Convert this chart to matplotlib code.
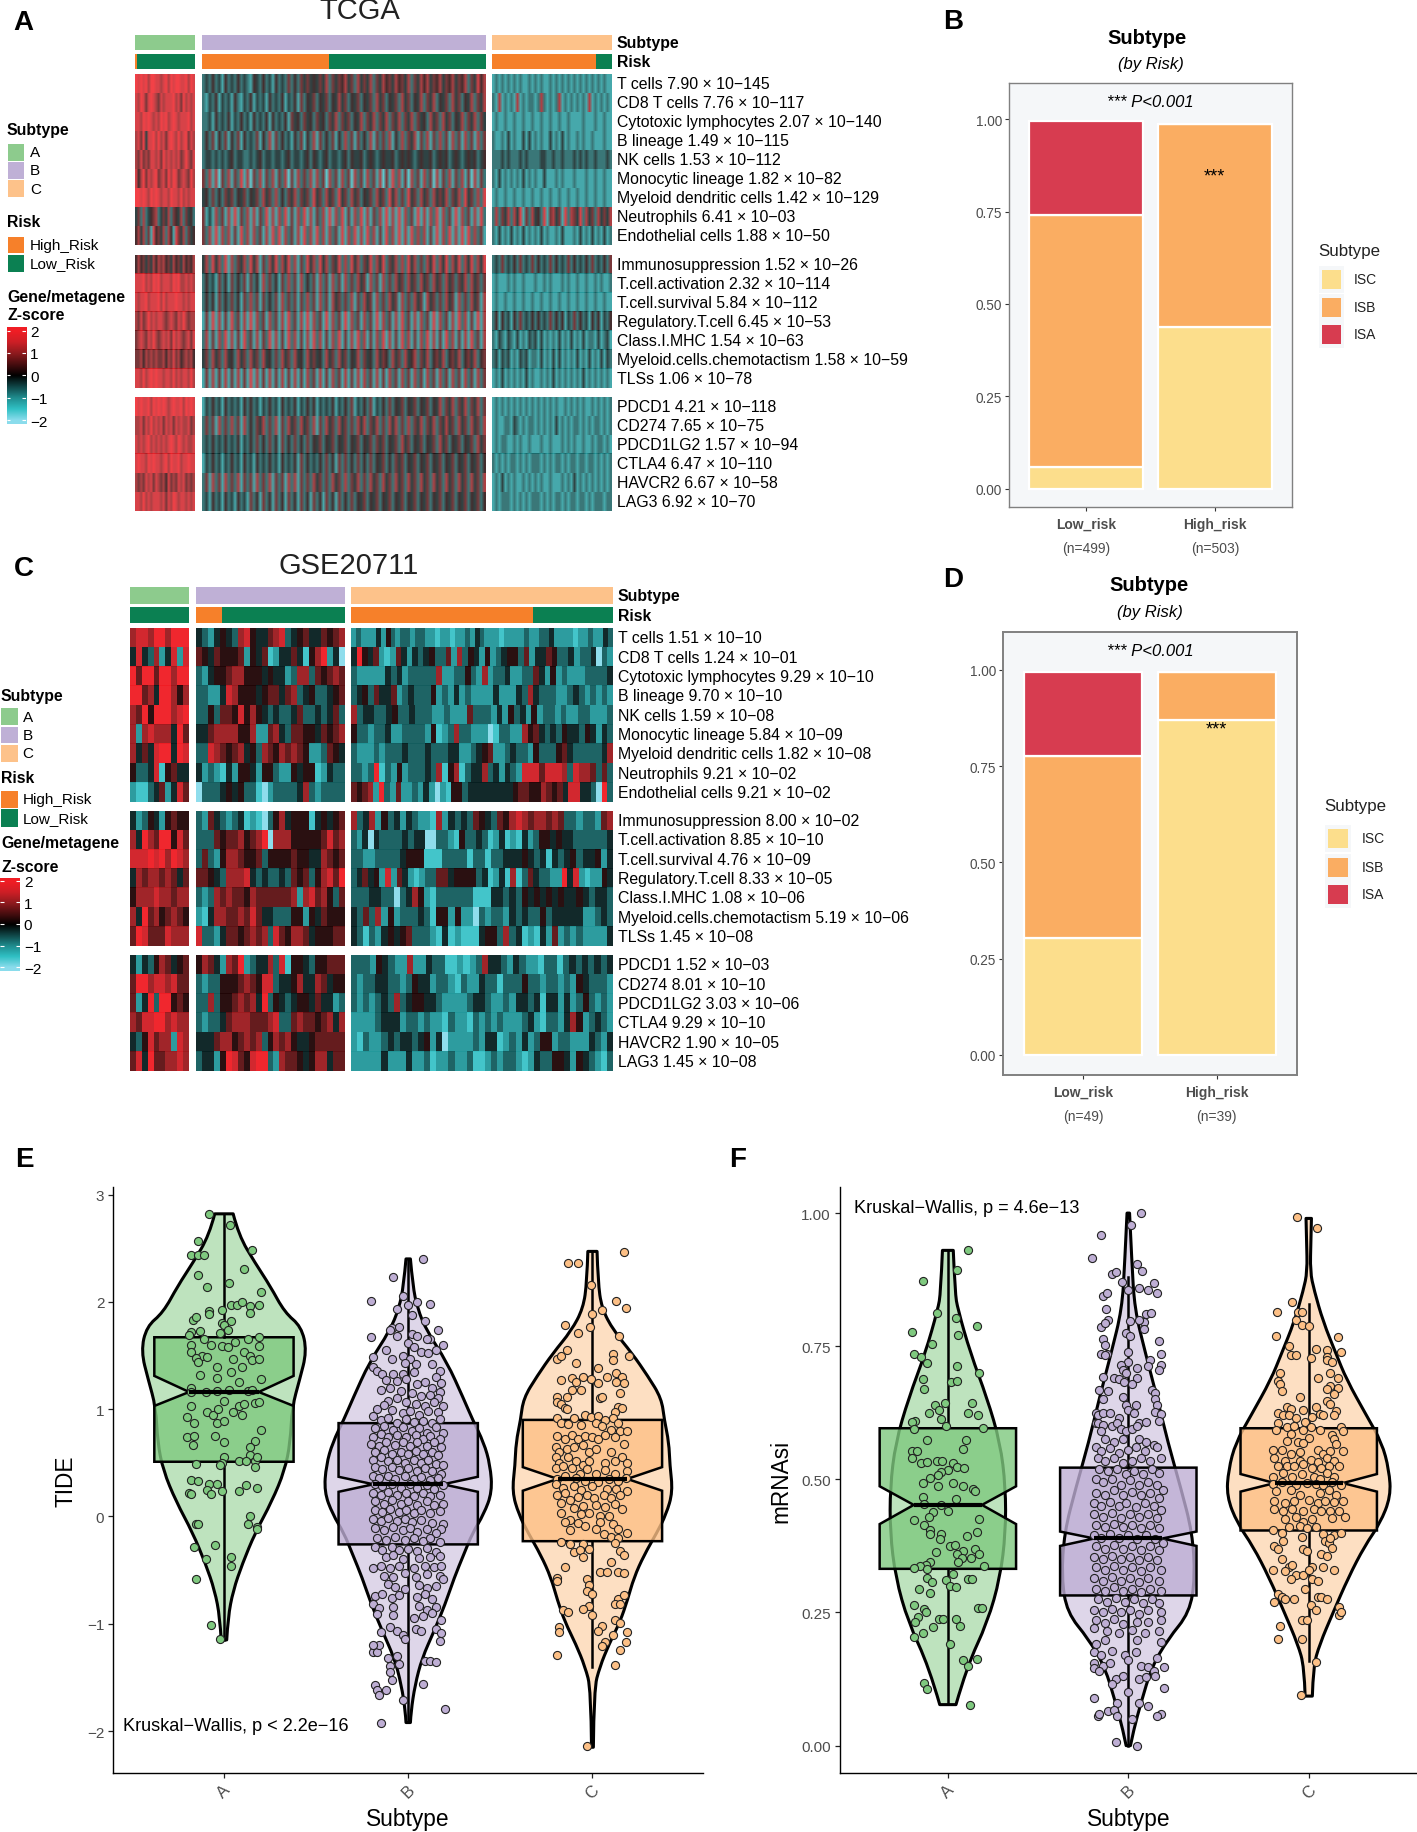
import matplotlib
matplotlib.use("Agg")
import matplotlib.pyplot as plt
import numpy as np
from matplotlib.colors import LinearSegmentedColormap, to_rgba
from matplotlib.patches import PathPatch, Rectangle
from matplotlib.path import Path

plt.rcParams["font.family"] = ["Liberation Sans", "DejaVu Sans"]

W, H = 1417, 1833

# ---- heatmap labels
TCGA_LABELS = ["T cells 7.90 × 10−145", "CD8 T cells 7.76 × 10−117", "Cytotoxic lymphocytes 2.07 × 10−140",
               "B lineage 1.49 × 10−115", "NK cells 1.53 × 10−112", "Monocytic lineage 1.82 × 10−82",
               "Myeloid dendritic cells 1.42 × 10−129", "Neutrophils 6.41 × 10−03", "Endothelial cells 1.88 × 10−50",
               "Immunosuppression 1.52 × 10−26", "T.cell.activation 2.32 × 10−114", "T.cell.survival 5.84 × 10−112",
               "Regulatory.T.cell 6.45 × 10−53", "Class.I.MHC 1.54 × 10−63", "Myeloid.cells.chemotactism 1.58 × 10−59",
               "TLSs 1.06 × 10−78", "PDCD1 4.21 × 10−118", "CD274 7.65 × 10−75", "PDCD1LG2 1.57 × 10−94",
               "CTLA4 6.47 × 10−110", "HAVCR2 6.67 × 10−58", "LAG3 6.92 × 10−70"]
GSE_LABELS = ["T cells 1.51 × 10−10", "CD8 T cells 1.24 × 10−01", "Cytotoxic lymphocytes 9.29 × 10−10",
              "B lineage 9.70 × 10−10", "NK cells 1.59 × 10−08", "Monocytic lineage 5.84 × 10−09",
              "Myeloid dendritic cells 1.82 × 10−08", "Neutrophils 9.21 × 10−02", "Endothelial cells 9.21 × 10−02",
              "Immunosuppression 8.00 × 10−02", "T.cell.activation 8.85 × 10−10", "T.cell.survival 4.76 × 10−09",
              "Regulatory.T.cell 8.33 × 10−05", "Class.I.MHC 1.08 × 10−06", "Myeloid.cells.chemotactism 5.19 × 10−06",
              "TLSs 1.45 × 10−08", "PDCD1 1.52 × 10−03", "CD274 8.01 × 10−10", "PDCD1LG2 3.03 × 10−06",
              "CTLA4 9.29 × 10−10", "HAVCR2 1.90 × 10−05", "LAG3 1.45 × 10−08"]
BLOCK_ROWS = [9, 7, 6]

# share of high risk samples per subtype
TCGA_HIGH_FRAC = [0.03, 0.448, 0.87]
GSE_HIGH_FRAC = [0.0, 0.175, 0.695]

# heat values, one string per row, digit 0..9 stands for z-score -2..2
TCGA_A = [
    "989897998878979899889798", "879868987687888978697878", "887989878798978987888978", "786948897978689879789687",
    "768676887869787878679768", "857968789678697986787697", "998987989878879887978788", "463734567346473654736453",
    "574736285647375286473645",
    "575646475767564756475657", "888978798978887989778787", "878897888979788898878788", "768679787887678768797677",
    "678768797678786978767868", "667576767667576867567675", "887978989887887978788797",
    "989889798989878988979898", "778687978786878687877867", "878789787878789879878778", "898879898878979889788988",
    "767687868767586768786767", "887978788878687987887878"]
TCGA_B = [
    "343534253435343254353425343635364645464736465746374647364756475647364757465746574657364857",
    "324352434253243524342534352435263546354635474635463546374635463746354736473546374635473647",
    "334253435243534253435253435264536453645364736463547364736473647364736453746374635473647364",
    "353625362536253436253726353425362537263536253736263537263637253736472637263736273627362736",
    "344343434534433434534434434534434535434534434535445345434544534545434544534545345434545345",
    "637271637263827163726372637162736372736173627361736273627162837261736273617263726372617263",
    "453635364635463546374637353647364638463746384637463546374638473638463746374647364738463738",
    "624273627282637272638272738262738272637282738262738272637282728273628272738273628273627283",
    "637282737262837273627283827362728372837273628273827283726283728272837372628273827282837362",
    "473847382736473847263748374837263847384736483738473648374836473738473637483748374837483748",
    "353426352635362635273635263736273536273627362736374627362736374637463746374637463647374636",
    "353526353635263736263536273636263736273627463637263746273637462736374627463637462736374627",
    "262827262836272827362736272836272827362827362827362736282736272836272736282736272837262827",
    "372627382726283627263827262837262728372627382627283726273827262837262738272628372627283627",
    "463746374537463746374536374637453746453746374635473645374653746374573647356473564735647356",
    "262726272627262827262726272627262736272627362726272736272627362736273627362736273627362736",
    "243534253434253534243534253435243535243435243536243536243536354635463546354736473647364736",
    "363627363736273536473637263746374637263746374636374736473637473637364736473647463746374637",
    "343534353435243536353635263536353635463546354635463546364635463746354635463746354635463746",
    "243534243534253425343534253435263534353635263635363536354635364635463546354635463546354635",
    "362736273637263627363726362737263637463637463736473637463746374637463746374637463746374637",
    "342534253425342635263526352635263526352635263536354635463546354635463546354635463546354635"]
TCGA_C = [
    "2323232323223232322323232323232323232322", "3272323272323323732323723232323272323232", "2322322322322322322322322322223222322322",
    "3223242322424232322423242322323223222322", "3334343334343333443343343334343433433343", "3242323232423232242223232223222322322322",
    "2322322322322322322322322322322322322322", "3736473748263745382674628376483746374647", "3242324232423232423223242223242324232423",
    "3436343536343635343635343635343536343536", "2322232322322232232322232322322322323223", "2322322322322322322322322322322322322322",
    "3525342536343535343635352436353425352435", "3243243242324342423232423242324233242342", "3424342324342332423242423232423242324243",
    "2324232323242322323242323232324232323232",
    "2323232323232323232323223232323223232323", "2322332432323323232324232323323232332323", "2323322323223222322322232323223223233232",
    "3232323323232333232323323233233233232323", "2324232322323232322322232324232323232323", "2323332323232333232323323233233232333233"]

GSE_A = [
    "7887997999", "4843724828", "9699699799", "9967499757", "7695999789", "7278777496", "7464899498", "5334815644",
    "2113462486",
    "4235425655", "7497699586", "8889897987", "4767767646", "5777877677", "7496756765", "6986668777",
    "4243576456", "6997887866", "6249399565", "7688997877", "4358677287", "6849667787"]
GSE_B = [
    "4324543785446783456446567", "6546555625461244641579240", "3245567755545442377365676", "3322487555456646734533456",
    "3353665857543433463343463", "4467777557226743665546567", "3387656745376576765223654", "4232142554255322545512433",
    "0333454533102333347323333",
    "3264323412103574555145456", "3336566756790777555556867", "3632577655635555655447656", "6654377784343343656357869",
    "3237676657666666727867536", "2147766768644333552546555", "8332466567673865776455566",
    "5764276923447381554355666", "3233555676588344574476455", "3373556767493543455464423", "3233467776667833676656747",
    "4446775676735767544566666", "3442598658993276654577466"]
GSE_C = [
    "23222425323323322122122324322212222322334222212232243", "49546212642434533627354252345536244653342334032",
    "3222224342333337223353272334223364252322233334", "3453644623433352324232222422243743332234323232",
    "734433453343332232226333242534252332322332223",  "5332334223333251237332220133227564343544354243",
    "3222323334333433344223456223433253335643333347",  "3323913252333437157134473424328886888738776363",
    "65672932622324202155344444444566557656488443093",
    "7347253424322172434365436578767767633233267",  "3240433334344003321533431241214235545443333334", "3322333345551113333133133444543414345344524",
    "3464528264212336645555341241713643322948212254", "3334433034752133333311144343545454544543443",  "4363725233343155252203233243433534444422343",
    "4313245456333214121114553734121426232322224",
    "333254322722433112123744324322133134343434", "3233443323544233213224331333533233232543332", "3232343734554432222344322324434144242353232",
    "2222344423323221322132323222342133247523432", "2132234344345240222232441232423552332224324", "2222242224223122322311232332124335542543213"]

# ---- stacked bars
RISK_NAMES = ["Low_risk", "High_risk"]
B_COUNTS = ["(n=499)", "(n=503)"]
D_COUNTS = ["(n=49)", "(n=39)"]
B_ISC = [0.057, 0.437]
B_ISB = [0.683, 0.551]
B_ISA = [0.254, 0.0]
D_ISC = [0.303, 0.870]
D_ISB = [0.472, 0.124]
D_ISA = [0.219, 0.0]

# ---- box statistics: q1, notch low, median, notch high, q3, whisker low, whisker high
E_BOX = [(0.51, 1.03, 1.16, 1.31, 1.67, -1.15, 2.82), (-0.26, 0.23, 0.30, 0.37, 0.87, -1.90, 2.40),
         (-0.23, 0.24, 0.35, 0.46, 0.90, -1.40, 2.47)]
F_BOX = [(0.332, 0.416, 0.452, 0.487, 0.596, 0.08, 0.93), (0.282, 0.375, 0.389, 0.402, 0.522, 0.0, 0.88),
         (0.404, 0.477, 0.493, 0.510, 0.596, 0.158, 0.83)]

# ---- violin outlines: y level and half width
E_VIO_Y = [[2.82, 2.62, 2.36, 2.15, 1.9, 1.77, 1.54, 1.27, 1.02, 0.69, 0.43, 0.14, -0.15, -0.44, -0.69, -0.94, -1.15],
           [2.40, 2.15, 1.94, 1.73, 1.44, 1.1, 0.9, 0.69, 0.48, 0.23, 0.02, -0.15, -0.36, -0.57, -0.82, -1.07, -1.32, -1.57, -1.82, -1.92],
           [2.47, 2.19, 1.94, 1.73, 1.52, 1.31, 1.1, 0.9, 0.69, 0.48, 0.23, 0.02, -0.15, -0.36, -0.57, -0.78, -0.98, -1.19, -1.4, -1.61, -2.15]]
E_VIO_W = [[0.05, 0.08, 0.17, 0.25, 0.33, 0.42, 0.45, 0.41, 0.37, 0.36, 0.33, 0.26, 0.17, 0.10, 0.05, 0.022, 0.015],
           [0.012, 0.025, 0.05, 0.10, 0.21, 0.30, 0.35, 0.41, 0.445, 0.456, 0.41, 0.35, 0.30, 0.25, 0.20, 0.14, 0.075, 0.037, 0.015, 0.012],
           [0.025, 0.03, 0.05, 0.115, 0.215, 0.30, 0.375, 0.39, 0.415, 0.42, 0.436, 0.40, 0.35, 0.28, 0.225, 0.19, 0.15, 0.09, 0.04, 0.008, 0.005]]
F_VIO_Y = [[0.93, 0.85, 0.82, 0.737, 0.653, 0.569, 0.485, 0.40, 0.316, 0.232, 0.148, 0.077],
           [1.0, 0.906, 0.82, 0.737, 0.653, 0.569, 0.485, 0.40, 0.316, 0.25, 0.20, 0.148, 0.08, 0.03, 0.0],
           [0.99, 0.948, 0.89, 0.855, 0.796, 0.737, 0.687, 0.62, 0.569, 0.518, 0.468, 0.417, 0.375, 0.316, 0.25, 0.19, 0.148, 0.093]]
F_VIO_W = [[0.03, 0.04, 0.055, 0.125, 0.217, 0.29, 0.32, 0.32, 0.29, 0.22, 0.105, 0.045],
           [0.007, 0.02, 0.035, 0.095, 0.16, 0.22, 0.29, 0.355, 0.37, 0.34, 0.22, 0.13, 0.07, 0.03, 0.012],
           [0.015, 0.012, 0.008, 0.03, 0.08, 0.15, 0.21, 0.32, 0.405, 0.445, 0.455, 0.395, 0.31, 0.22, 0.135, 0.06, 0.025, 0.02]]

# ---- jittered points, offset from category centre and value
E_A_PTS = [(-.08,2.82),(.035,2.72),(-.14,2.57),(-.18,2.44),(-.14,2.44),(-.11,2.44),(.15,2.48),(.11,2.31),(-.14,2.25),(-.09,2.14),(.03,2.18),(.2,2.09),(-.08,1.91),(-.08,1.89),(-.01,1.92),(.04,1.97),(.07,1.97),(.1,2.0),(.14,1.96),(.19,1.97),(.14,1.9),(-.17,1.83),(-.15,1.86),(.04,1.82),(-.01,1.8),(.0,1.78),(-.18,1.72),(-.13,1.73),(-.19,1.69),(-.02,1.71),(.02,1.74),(-.11,1.65),(.06,1.63),(.13,1.65),(.19,1.67),(-.18,1.6),(-.07,1.6),(-.01,1.59),(.02,1.58),(.19,1.59),(-.18,1.53),(-.12,1.5),(-.15,1.48),(-.09,1.49),(.11,1.53),(.14,1.5),(.05,1.47),(.15,1.46),(.19,1.47),(-.14,1.44),(-.04,1.39),(.04,1.35),(.1,1.39),(-.13,1.32),(-.04,1.29),(.08,1.25),(.2,1.28),(-.18,1.2),(-.04,1.17),(.03,1.18),(.13,1.17),(.15,1.18),(-.18,1.16),(-.1,1.16),(0,1.08),(-.18,1.03),(.08,1.03),(.11,1.05),(.17,1.06),(.19,1.07),(-.09,.97),(-.06,.95),(-.03,1.0),(.05,.97),(.1,.95),(-.2,.93),(-.16,.87),(-.04,.87),(.0,.89),(.2,.81),(-.2,.74),(-.16,.75),(-.05,.75),(0,.69),(.17,.7),(-.17,.67),(.14,.65),(.14,.57),(.0,.55),(-.01,.5),(.08,.52),(.12,.52),(.17,.52),(.18,.55),(-.15,.49),(-.02,.48),(.17,.46),(-.18,.34),(-.14,.33),(-.08,.3),(-.04,.3),(-.09,.25),(-.19,.22),(-.18,.21),(-.07,.21),(-.01,.24),(.08,.24),(.12,.29),(.18,.27),(.14,0.0),(-.15,-.07),(-.14,-.07),(.13,-.07),(.18,-.1),(.18,-.12),(-.16,-.28),(-.05,-.27),(.04,-.38),(-.1,-.4),(.04,-.46),(-.15,-.58),(-.07,-1.01),(-.02,-1.14)]
E_B_PTS = [(.08,2.4),(-.08,2.23),(-.2,2.01),(-.03,2.05),(.05,2.0),(.12,1.98),(.0,1.97),(-.06,1.93),(.02,1.88),(.09,1.82),(-.09,1.76),(-.05,1.77),(-.1,1.74),(.16,1.74),(.12,1.65),(.19,1.6),(-.2,1.67),(-.06,1.68),(.02,1.7),(.05,1.68),(.1,1.65),(.0,1.62),(.03,1.58),(-.12,1.55),(.15,1.55),(-.19,1.49),(-.03,1.5),(.01,1.47),(.07,1.53),(.11,1.52),(.04,1.42),(-.09,1.47),(-.02,1.43),(-.19,1.39),(-.17,1.36),(.13,1.42),(.17,1.36),(.15,1.3),(-.14,1.33),(-.08,1.33),(-.03,1.33),(.03,1.35),(.18,1.24),(-.12,1.27),(-.06,1.26),(-.01,1.28),(.05,1.23),(.09,1.25),(.13,1.2),(.17,1.16),(-.15,1.18),(-.1,1.2),(-.04,1.17),(.02,1.15),(.07,1.12),(.12,1.13),(.16,1.1),(-.11,1.08),(-.06,1.1),(-.01,1.07),(-.17,1.0),(-.13,1.04),(.04,1.05),(.09,1.03),(.14,1.07),(.19,1.03),(-.19,.94),(-.09,.99),(-.03,.96),(.01,.98),(.06,.95),(.11,.98),(.16,.97),(-.15,.9),(-.11,.92),(-.06,.87),(-.01,.91),(.03,.88),(.08,.89),(.13,.87),(.17,.91),(-.18,.82),(-.13,.84),(-.08,.81),(-.03,.83),(.02,.8),(.06,.82),(.1,.78),(.15,.83),(.19,.78),(-.19,.74),(-.15,.77),(-.11,.74),(-.06,.76),(-.01,.74),(.04,.76),(.08,.72),(.12,.75),(.17,.72),(-.2,.68),(-.16,.66),(-.12,.69),(-.07,.67),(-.03,.69),(.01,.66),(.05,.69),(.1,.66),(.14,.69),(.18,.65),(-.18,.6),(-.13,.62),(-.09,.58),(-.04,.6),(.0,.58),(.04,.61),(.08,.58),(.13,.6),(.16,.57),(-.19,.53),(-.15,.55),(-.11,.52),(-.06,.53),(-.02,.5),(.03,.53),(.07,.5),(.11,.53),(.15,.49),(.19,.48),(-.18,.46),(-.14,.44),(-.09,.46),(-.05,.43),(.0,.45),(.05,.42),(.09,.45),(.13,.42),(.18,.4),(-.19,.38),(-.16,.36),(-.11,.38),(-.07,.35),(-.02,.38),(.03,.35),(.07,.37),(.12,.34),(.16,.36),(-.18,.3),(-.14,.28),(-.09,.3),(-.04,.27),(.01,.3),(.05,.27),(.1,.29),(.14,.26),(.19,.29),(-.19,.22),(-.15,.2),(-.11,.23),(-.06,.2),(-.01,.22),(.03,.19),(.08,.22),(.12,.19),(.17,.2),(-.18,.14),(-.13,.12),(-.09,.15),(-.04,.12),(.0,.14),(.05,.11),(.1,.14),(.14,.11),(.19,.12),(-.18,.06),(-.14,.04),(-.1,.07),(-.05,.04),(-.01,.06),(.03,.03),(.07,.06),(.12,.03),(.17,.05),(-.19,-.02),(-.15,-.04),(-.11,-.01),(-.06,-.04),(-.02,-.02),(.02,-.05),(.07,-.03),(.13,-.06),(.19,-.07),(.18,-.12),(-.18,-.11),(-.13,-.13),(-.08,-.1),(-.03,-.13),(.01,-.11),(.05,-.14),(.1,-.12),(.15,-.15),(-.17,-.2),(-.12,-.22),(-.07,-.19),(-.02,-.22),(.03,-.2),(.08,-.23),(.12,-.2),(.17,-.24),(-.18,-.28),(-.14,-.31),(-.09,-.28),(-.05,-.31),(.0,-.3),(.05,-.32),(.1,-.29),(.15,-.33),(-.12,-.38),(-.08,-.36),(-.03,-.4),(.06,-.39),(.12,-.38),(.17,-.37),(-.19,-.48),(-.15,-.46),(-.1,-.48),(-.05,-.46),(.03,-.48),(.09,-.46),(.14,-.47),(.18,-.46),(-.13,-.55),(-.08,-.56),(-.02,-.53),(.04,-.56),(.1,-.54),(.17,-.55),(.19,-.58),(-.11,-.63),(-.07,-.66),(-.02,-.68),(.06,-.64),(.1,-.67),(.15,-.65),(-.18,-.74),(-.14,-.72),(-.09,-.76),(-.05,-.73),(.05,-.75),(.09,-.72),(.13,-.77),(-.19,-.82),(-.16,-.85),(-.08,-.84),(.06,-.83),(.1,-.87),(.15,-.84),(-.17,-.91),(-.08,-.92),(.03,-.95),(.08,-.93),(.13,-.9),(.18,-.96),(-.1,-1.03),(-.06,-1.07),(.04,-1.05),(.07,-1.07),(.15,-1.05),(.18,-1.09),(-.15,-1.08),(-.03,-1.1),(-.02,-1.14),(-.19,-1.26),(-.17,-1.26),(-.16,-1.2),(-.19,-1.2),(.17,-1.16),(-.11,-1.32),(-.06,-1.3),(-.1,-1.39),(-.05,-1.37),(.09,-1.35),(.12,-1.35),(.15,-1.36),(-.1,-1.45),(-.09,-1.52),(.08,-1.56),(-.18,-1.57),(-.17,-1.62),(-.12,-1.62),(-.16,-1.66),(-.03,-1.71),(.2,-1.79),(-.15,-1.92)]
E_C_PTS = [(.17,2.46),(-.135,2.36),(-.08,2.36),(-.01,2.16),(.13,2.01),(.18,1.94),(.05,1.92),(0,1.89),(-.15,1.78),(-.015,1.77),(-.08,1.71),(.145,1.68),(-.19,1.47),(-.17,1.5),(-.14,1.55),(.11,1.51),(.11,1.46),(.2,1.5),(-.09,1.43),(.03,1.38),(-.17,1.27),(-.11,1.29),(-.09,1.25),(-.05,1.3),(-.01,1.28),(.03,1.24),(.08,1.3),(.13,1.34),(.16,1.3),(.13,1.25),(.17,1.24),(-.11,1.18),(-.06,1.18),(.15,1.15),(-.19,1.11),(-.14,1.11),(.04,1.1),(.05,1.11),(-.19,1.07),(-.17,1.05),(-.15,1.01),(-.14,1.0),(.14,1.02),(.16,1.01),(.12,.97),(-.19,.92),(-.1,.92),(-.04,.95),(-.01,.93),(.03,.94),(.07,.9),(.11,.92),(.14,.87),(-.17,.87),(-.13,.86),(-.06,.85),(.02,.87),(.05,.84),(.1,.81),(.15,.8),(.19,.8),(-.19,.75),(-.15,.72),(-.11,.76),(-.08,.72),(-.04,.75),(.0,.74),(.03,.72),(.07,.76),(.12,.74),(.17,.68),(-.2,.65),(-.18,.6),(-.14,.63),(-.1,.65),(-.05,.67),(-.02,.6),(.02,.63),(.1,.6),(.16,.55),(-.2,.55),(-.18,.5),(-.13,.55),(-.09,.52),(-.05,.48),(-.02,.52),(.07,.5),(.12,.52),(.19,.5),(-.2,.45),(-.16,.47),(-.11,.45),(-.07,.4),(-.03,.44),(.02,.4),(.07,.43),(.12,.4),(.19,.42),(-.19,.35),(-.15,.38),(-.09,.36),(-.04,.33),(.03,.32),(.09,.35),(.14,.33),(.18,.36),(-.2,.3),(-.16,.27),(-.1,.28),(-.06,.25),(.0,.28),(.08,.26),(.13,.26),(.19,.24),(-.19,.2),(-.15,.22),(-.12,.15),(-.08,.18),(-.03,.2),(.01,.17),(.06,.2),(.1,.17),(.15,.2),(-.17,.13),(-.1,.08),(-.05,.1),(.02,.11),(.07,.09),(.12,.12),(.16,.07),(-.17,.03),(-.12,-.03),(-.06,.02),(-.02,.03),(.04,.0),(.09,.0),(-.15,-.05),(-.08,-.06),(-.04,-.09),(.04,-.05),(.11,-.07),(.14,-.12),(.19,-.15),(-.12,-.13),(.02,-.12),(.06,-.16),(.1,-.19),(.14,-.2),(-.17,-.24),(-.12,-.26),(-.05,-.26),(-.02,-.3),(.12,-.25),(.15,-.32),(.17,-.36),(-.1,-.33),(-.07,-.31),(-.05,-.38),(.1,-.42),(.04,-.52),(.08,-.52),(.14,-.52),(.17,-.53),(-.15,-.47),(-.19,-.57),(-.19,-.6),(-.03,-.58),(-.02,-.64),(-.03,-.69),(0,-.72),(-.02,-.83),(-.05,-.86),(-.16,-.87),(.14,-.77),(.17,-.73),(.12,-.82),(.15,-.82),(-.13,-.89),(.0,-.92),(.12,-.96),(.15,-.99),(-.18,-1.03),(-.18,-1.08),(.05,-1.02),(.03,-1.07),(.11,-1.1),(.19,-1.08),(.07,-1.17),(.05,-1.21),(.18,-1.17),(.15,-1.24),(-.19,-1.29),(.12,-1.38),(-.03,-2.14)]
F_A_PTS = [(.11,.93),(.05,.894),(-.14,.872),(-.06,.813),(.045,.803),(.16,.788),(-.2,.776),(.055,.772),(-.09,.755),(-.19,.735),(-.15,.73),(-.115,.718),(.05,.712),(.17,.70),(-.14,.688),(.02,.682),(.05,.685),(-.13,.67),(.135,.644),(-.015,.644),(-.07,.64),(-.05,.63),(-.105,.624),(.11,.624),(.165,.62),(-.04,.614),(-.18,.61),(-.2,.607),(-.01,.6),(-.19,.595),(.195,.597),(-.115,.573),(.1,.573),(.085,.557),(-.2,.554),(-.17,.554),(-.2,.541),(-.15,.531),(-.115,.533),(-.06,.534),(-.035,.535),(.03,.531),(.05,.523),(.09,.522),(0,.518),(-.04,.514),(-.055,.508),(-.1,.502),(-.14,.493),(-.055,.487),(.03,.493),(.085,.487),(.14,.481),(.15,.478),(-.14,.466),(.045,.463),(-.135,.453),(-.04,.451),(-.08,.439),(0,.44),(-.105,.43),(-.19,.424),(.17,.426),(-.13,.414),(-.1,.405),(-.1,.398),(-.04,.397),(-.045,.388),(.16,.402),(.105,.394),(.01,.375),(.04,.377),(.15,.37),(-.065,.364),(.085,.365),(.17,.36),(.05,.36),(.08,.353),(.13,.352),(.055,.345),(-.1,.345),(-.12,.34),(-.155,.338),(-.19,.333),(-.115,.332),(.2,.337),(.03,.322),(-.115,.315),(-.01,.311),(-.09,.307),(.11,.312),(.135,.312),(.01,.3),(.045,.298),(-.16,.294),(-.1,.287),(-.185,.264),(.165,.259),(.19,.258),(-.13,.256),(-.12,.25),(-.165,.242),(-.18,.232),(-.05,.237),(-.025,.237),(.045,.237),(.07,.225),(-.085,.222),(-.14,.211),(-.19,.204),(.01,.19),(.16,.163),(.085,.161),(.11,.15),(-.135,.117),(-.115,.106),(.125,.077)]
F_B_PTS = [(.07,1.0),(.015,.977),(-.15,.958),(-.2,.915),(.05,.905),(.075,.892),(-.09,.885),(-.07,.89),(-.035,.87),(.14,.868),(.06,.86),(.11,.856),(.0,.855),(-.14,.845),(-.12,.85),(.16,.85),(-.125,.82),(.1,.81),(.125,.812),(-.115,.8),(-.15,.787),(-.13,.793),(.01,.798),(.085,.795),(.06,.8),(.085,.782),(-.01,.775),(-.14,.763),(.01,.77),(.17,.76),(-.13,.752),(.0,.74),(-.12,.735),(-.15,.735),(-.13,.733),(.18,.735),(.0,.72),(.12,.725),(-.04,.715),(-.03,.705),(.18,.715),(-.01,.7),(.11,.712),(.17,.705),(.05,.71),(-.14,.692),(-.08,.69),(-.05,.688),(-.025,.683),(.05,.69),(.02,.68),(.13,.668),(-.16,.667),(-.11,.665),(.15,.663),(.15,.65),(.16,.64),(-.03,.655),(-.14,.65),(.04,.64),(-.01,.64),(.0,.63),(.03,.625),(-.18,.625),(-.17,.62),(-.14,.625),(-.1,.625),(.15,.627),(.18,.622),(-.05,.615),(-.18,.605),(-.17,.605),(-.14,.602),(-.09,.6),(-.06,.606),(.06,.606),(.1,.608),(.17,.61),(-.15,.59),(-.04,.595),(-.01,.59),(.02,.595),(.05,.6),(-.13,.575),(-.08,.57),(-.03,.575),(.06,.575),(.1,.57),(.14,.565),(-.18,.56),(-.15,.553),(-.1,.558),(-.05,.55),(0,.555),(.04,.56),(.09,.553),(.16,.56),(-.17,.54),(-.13,.535),(-.08,.54),(-.03,.53),(.02,.535),(.07,.54),(.12,.535),(.18,.54),(-.16,.52),(-.11,.515),(-.06,.52),(-.01,.51),(.03,.515),(.08,.51),(.13,.52),(.17,.512),(-.18,.5),(-.14,.495),(-.09,.5),(-.04,.49),(.01,.498),(.06,.49),(.11,.495),(.16,.49),(.19,.48),(-.18,.475),(-.13,.47),(-.08,.48),(-.03,.47),(.02,.477),(.07,.47),(.12,.475),(.17,.465),(-.19,.455),(-.15,.45),(-.1,.458),(-.05,.45),(-.01,.455),(.04,.448),(.09,.455),(.14,.45),(.18,.443),(-.19,.435),(-.14,.43),(-.09,.437),(-.04,.428),(.01,.435),(.06,.43),(.11,.435),(.16,.428),(-.18,.415),(-.13,.41),(-.08,.417),(-.03,.41),(.02,.415),(.07,.408),(.12,.415),(.17,.408),(-.19,.395),(-.15,.39),(-.1,.397),(-.05,.39),(0,.395),(.05,.388),(.1,.395),(.15,.388),(.19,.38),(-.18,.375),(-.13,.37),(-.08,.377),(-.03,.37),(.02,.375),(.07,.368),(.12,.375),(.17,.368),(-.19,.355),(-.14,.35),(-.09,.357),(-.04,.35),(.01,.355),(.06,.348),(.11,.355),(.16,.348),(-.18,.335),(-.13,.33),(-.08,.337),(-.03,.33),(.02,.335),(.07,.328),(.12,.335),(.18,.33),(-.19,.315),(-.14,.31),(-.09,.317),(-.04,.31),(.01,.315),(.06,.308),(.11,.315),(.17,.31),(-.18,.295),(-.13,.29),(-.08,.297),(-.03,.29),(.02,.295),(.07,.288),(.12,.295),(.18,.29),(-.17,.275),(-.12,.27),(-.07,.277),(-.02,.27),(.03,.275),(.08,.268),(.13,.275),(.17,.268),(-.19,.255),(-.14,.25),(-.09,.257),(-.04,.25),(.01,.255),(.06,.248),(.11,.255),(.18,.25),(-.18,.235),(-.13,.23),(-.08,.237),(-.03,.228),(.05,.232),(.11,.232),(.18,.235),(-.19,.22),(-.12,.215),(-.05,.212),(.02,.218),(.09,.212),(.17,.215),(-.18,.19),(-.13,.198),(.05,.198),(.18,.195),(-.19,.175),(-.15,.17),(-.09,.178),(-.02,.17),(.04,.175),(.16,.165),(-.19,.155),(-.14,.15),(-.1,.155),(.0,.16),(.07,.15),(.11,.148),(.14,.14),(.2,.147),(-.19,.145),(-.16,.14),(-.07,.125),(-.03,.13),(.06,.125),(.1,.128),(.15,.13),(-.09,.115),(.0,.1),(.2,.108),(-.19,.09),(-.06,.08),(.06,.08),(-.11,.065),(-.08,.067),(.11,.075),(-.17,.055),(-.16,.06),(.18,.06),(.16,.055),(.02,.05),(-.06,.055),(-.07,.006),(.05,0.0)]
F_C_PTS = [(-.065,.993),(.045,.972),(-.09,.833),(-.175,.815),(-.06,.815),(-.04,.815),(-.07,.8),(-.04,.79),(0,.788),(.16,.768),(-.18,.77),(-.11,.75),(.04,.745),(.1,.742),(.18,.74),(.1,.73),(-.1,.733),(-.07,.733),(.01,.728),(.1,.725),(.13,.72),(.12,.7),(-.16,.7),(-.17,.685),(-.16,.68),(.05,.69),(.16,.69),(.12,.675),(.1,.67),(.16,.672),(.14,.66),(-.15,.665),(-.05,.655),(.1,.648),(.12,.642),(-.17,.625),(-.12,.635),(-.1,.632),(-.03,.63),(.04,.635),(.06,.622),(.15,.628),(-.14,.62),(-.11,.62),(-.07,.615),(-.02,.608),(.02,.618),(.08,.62),(.14,.62),(-.17,.605),(-.12,.598),(-.08,.6),(-.03,.592),(.01,.598),(.06,.592),(.18,.598),(.19,.59),(-.18,.592),(-.1,.585),(.0,.578),(.13,.583),(.14,.576),(-.12,.572),(-.06,.57),(-.03,.568),(.15,.567),(-.2,.556),(-.15,.555),(-.1,.548),(-.05,.552),(.05,.555),(.08,.548),(.12,.553),(.19,.553),(-.19,.54),(-.13,.535),(-.05,.535),(.01,.537),(.05,.533),(.1,.54),(.14,.535),(-.17,.525),(-.12,.525),(-.08,.525),(-.03,.528),(.02,.522),(.07,.522),(.11,.525),(.17,.525),(-.2,.505),(-.14,.512),(-.09,.505),(-.04,.51),(.03,.505),(.06,.5),(.1,.512),(.14,.505),(-.2,.492),(-.15,.495),(-.07,.49),(-.01,.494),(.04,.492),(.08,.49),(.13,.495),(.18,.49),(-.18,.478),(-.1,.48),(-.05,.47),(.06,.475),(.11,.48),(.15,.47),(-.19,.46),(-.13,.455),(-.08,.46),(.0,.462),(.05,.455),(.09,.46),(.14,.458),(.19,.46),(-.19,.445),(-.14,.44),(-.09,.445),(-.03,.44),(.03,.445),(.07,.44),(.12,.44),(.17,.44),(-.13,.425),(-.07,.43),(-.03,.42),(.02,.425),(.13,.427),(.2,.43),(-.2,.405),(-.15,.4),(-.11,.41),(-.05,.412),(-.01,.408),(.04,.41),(.08,.398),(.14,.395),(.18,.4),(-.19,.375),(-.17,.37),(-.14,.385),(-.04,.392),(.09,.385),(.11,.38),(.12,.39),(.13,.372),(-.03,.37),(-.01,.365),(.07,.36),(.1,.357),(-.15,.35),(-.11,.335),(-.09,.34),(.02,.335),(.08,.335),(.14,.33),(-.2,.33),(-.13,.328),(-.07,.32),(-.03,.32),(.0,.33),(.02,.312),(-.1,.312),(.05,.31),(-.02,.295),(-.17,.285),(-.15,.28),(-.13,.275),(-.08,.275),(.05,.28),(.07,.28),(-.19,.27),(.1,.275),(.01,.265),(.04,.255),(.17,.26),(.17,.245),(.18,.25),(-.16,.225),(-.04,.235),(-.01,.235),(-.17,.2),(-.04,.2),(.04,.157),(-.045,.095)]

NOTE_E = "Kruskal−Wallis, p < 2.2e−16"
NOTE_F = "Kruskal−Wallis, p = 4.6e−13"
SUBTYPES = ["A", "B", "C"]

# colours
C_SUB = ["#8DCB8D", "#BFB0D6", "#FDC28A"]
C_POINT = ["#7FC97F", "#BEAED4", "#FDC086"]
C_HIGH = "#F6802A"
C_LOW = "#0B8052"
C_ISC = "#FCDE8C"
C_ISB = "#FAAD62"
C_ISA = "#D73C50"
BG_BAR = "#F5F7F9"
GREY = "#4D4D4D"

heat_cmap = LinearSegmentedColormap.from_list(
    "heat", [(0, "#8ADCEC"), (0.125, "#30C0C4"), (0.25, "#1F8C8E"), (0.5, "#000000"),
             (0.75, "#8E1A1E"), (0.88, "#CE1F26"), (1, "#F01D24")])


def px_axes(x0, y0, x1, y1):
    return fig.add_axes([x0 / W, 1 - y1 / H, (x1 - x0) / W, (y1 - y0) / H])


def draw_row_strips(box, rows, interp, alpha):
    ax = px_axes(*box)
    for i, s in enumerate(rows):
        vals = np.array([int(c) for c in s], dtype=float)
        ax.imshow(vals[None, :], extent=(0, 1, i + 1, i), aspect="auto", cmap=heat_cmap, vmin=0, vmax=9,
                  interpolation=interp, interpolation_stage="rgba", alpha=alpha)
    ax.set_xlim(0, 1)
    ax.set_ylim(len(rows), 0)
    ax.axis("off")


def draw_heatmap(cols, sub_y, risk_y, blocks, groups, high_frac, labels, label_x, interp, alpha):
    for k, (x0, x1) in enumerate(cols):
        ax = px_axes(x0, sub_y[0], x1, sub_y[1])
        ax.barh(0, 1, height=1, color=C_SUB[k])
        ax.set_xlim(0, 1)
        ax.set_ylim(-0.5, 0.5)
        ax.axis("off")
        ax = px_axes(x0, risk_y[0], x1, risk_y[1])
        ax.barh(0, high_frac[k], height=1, color=C_HIGH)
        ax.barh(0, 1 - high_frac[k], left=high_frac[k], height=1, color=C_LOW)
        ax.set_xlim(0, 1)
        ax.set_ylim(-0.5, 0.5)
        ax.axis("off")
        start = 0
        for (y0, y1), n in zip(blocks, BLOCK_ROWS):
            draw_row_strips((x0, y0, x1, y1), groups[k][start:start + n], interp, alpha)
            start += n
    start = 0
    for (y0, y1), n in zip(blocks, BLOCK_ROWS):
        for i in range(n):
            over.text(label_x, y0 + (i + 0.5) * (y1 - y0) / n, labels[start + i], fontsize=11.4, va="center")
        start += n
    over.text(label_x, sum(sub_y) / 2, "Subtype", fontsize=11.4, weight="bold", va="center")
    over.text(label_x, sum(risk_y) / 2, "Risk", fontsize=11.4, weight="bold", va="center")


def draw_heat_legend(x_sq, x_txt, x_title, y_sub, sub_boxes, y_risk, risk_boxes, y_gene, y_z, cbar):
    over.text(x_title, y_sub, "Subtype", fontsize=11.4, weight="bold", va="center")
    for (y0, y1), c, name in zip(sub_boxes, C_SUB, SUBTYPES):
        over.add_patch(Rectangle((x_sq[0], y0), x_sq[1] - x_sq[0], y1 - y0, color=c, lw=0))
        over.text(x_txt, (y0 + y1) / 2, name, fontsize=11, va="center")
    over.text(x_title, y_risk, "Risk", fontsize=11.4, weight="bold", va="center")
    for (y0, y1), c, name in zip(risk_boxes, [C_HIGH, C_LOW], ["High_Risk", "Low_Risk"]):
        over.add_patch(Rectangle((x_sq[0], y0), x_sq[1] - x_sq[0], y1 - y0, color=c, lw=0))
        over.text(x_txt, (y0 + y1) / 2, name, fontsize=11, va="center")
    over.text(x_title, y_gene, "Gene/metagene", fontsize=11.4, weight="bold", va="center")
    over.text(x_title, y_z, "Z-score", fontsize=11.4, weight="bold", va="center")
    ax = px_axes(*cbar)
    grad = np.linspace(2.16, -2.16, 200)[:, None]
    ax.imshow(grad, extent=(0, 1, -2.16, 2.16), aspect="auto", cmap=heat_cmap, vmin=-2, vmax=2)
    ticks = [-2, -1, 0, 1, 2]
    ax.hlines(ticks, 0, 0.2, color="white", lw=0.8)
    ax.hlines(ticks, 0.8, 1, color="white", lw=0.8)
    ax.set_xticks([])
    ax.set_yticks(ticks)
    ax.set_yticklabels(["−2", "−1", "0", "1", "2"], fontsize=11)
    ax.yaxis.tick_right()
    ax.tick_params(axis="y", length=0, pad=3)
    for sp in ax.spines.values():
        sp.set_visible(False)


def draw_stack(box, centers_px, isc, isb, isa, counts, y_ticklab, title_xy, sub_xy, p_xy, counts_y,
               legend_title, patch_x, patch_ys, legend_x, spine_lw):
    ax = px_axes(*box)
    ax.set_facecolor(BG_BAR)
    xs = np.arange(2)
    bottom = np.zeros(2)
    for vals, c in zip([isc, isb, isa], [C_ISC, C_ISB, C_ISA]):
        vals = np.array(vals)
        ax.bar(xs, vals, 0.885, bottom=bottom, color=c, edgecolor="white", linewidth=1.6)
        bottom += vals
    ax.set_xlim(-0.6, 1.6)
    ax.set_ylim(y_ticklab)
    ax.set_yticks([0, 0.25, 0.5, 0.75, 1.0])
    ax.set_yticklabels(["0.00", "0.25", "0.50", "0.75", "1.00"], fontsize=9.8, color=GREY)
    ax.set_xticks(xs)
    ax.set_xticklabels(RISK_NAMES, fontsize=10, weight="bold", color=GREY)
    ax.tick_params(length=3, width=0.8, color="#333333", pad=2)
    ax.tick_params(axis="x", pad=4)
    ax.text(1, 0.845, "***", ha="center", va="center", fontsize=13)
    for sp in ax.spines.values():
        sp.set_color("#808080")
        sp.set_linewidth(spine_lw)
    for c_x, label in zip(centers_px, counts):
        over.text(c_x, counts_y, label, ha="center", va="center", fontsize=10, color=GREY)
    over.text(title_xy[0], title_xy[1], "Subtype", ha="center", va="center", fontsize=14.5, weight="bold")
    over.text(sub_xy[0], sub_xy[1], "(by Risk)", ha="center", va="center", fontsize=12, style="italic")
    over.text(p_xy[0], p_xy[1], "*** P<0.001", ha="center", va="center", fontsize=12, style="italic")
    over.text(legend_title[0], legend_title[1], "Subtype", va="center", fontsize=12.2, color="#222222")
    for y, c, name in zip(patch_ys, [C_ISC, C_ISB, C_ISA], ["ISC", "ISB", "ISA"]):
        over.add_patch(Rectangle((patch_x[0] - 3, y - 13), patch_x[1] - patch_x[0] + 6, 27, color=BG_BAR, lw=0))
        over.add_patch(Rectangle((patch_x[0], y - 9.5), patch_x[1] - patch_x[0], 19, color=c, lw=0))
        over.text(legend_x, y, name, va="center", fontsize=10, color="#222222")


def side_path(xs, ys):
    # quadratic segments through the midpoints of the read outline
    verts = []
    codes = []
    for j in range(1, len(xs) - 1):
        verts.append((xs[j], ys[j]))
        codes.append(Path.CURVE3)
        if j == len(xs) - 2:
            verts.append((xs[j + 1], ys[j + 1]))
        else:
            verts.append(((xs[j] + xs[j + 1]) / 2, (ys[j] + ys[j + 1]) / 2))
        codes.append(Path.CURVE3)
    return verts, codes


def violin_patch(center, y, w, color):
    rx = center + w
    lx = (center - w)[::-1]
    ly = y[::-1]
    v1, c1 = side_path(rx, y)
    v2, c2 = side_path(lx, ly)
    verts = [(rx[0], y[0])] + v1 + [(lx[0], ly[0])] + v2 + [(rx[0], y[0])]
    codes = [Path.MOVETO] + c1 + [Path.LINETO] + c2 + [Path.CLOSEPOLY]
    return PathPatch(Path(verts, codes), facecolor=to_rgba(color, 0.5), edgecolor="black", linewidth=2.2,
                     zorder=2, joinstyle="round")


def draw_violin_panel(box, ylim, yticks, ytickfmt, box_stats, vio_y, vio_w, points, ylabel, ylab_x, note, note_xy):
    ax = px_axes(*box)
    for i in range(3):
        y = np.array(vio_y[i])
        w = np.array(vio_w[i])
        ax.add_patch(violin_patch(float(i), y, w, C_POINT[i]))
        q1, lo, med, hi, q3, wl, wh = box_stats[i]
        stats = [dict(med=med, q1=q1, q3=q3, cilo=lo, cihi=hi, whislo=wl, whishi=wh, fliers=[])]
        parts = ax.bxp(stats, positions=[i], widths=0.756, shownotches=True, patch_artist=True, showcaps=False,
                       showfliers=False, zorder=3, manage_ticks=False,
                       boxprops=dict(facecolor=to_rgba(C_POINT[i], 0.8), edgecolor="black", linewidth=1.8),
                       whiskerprops=dict(color="black", linewidth=1.8),
                       medianprops=dict(color="black", linewidth=3.0, solid_capstyle="butt"))
        parts["medians"][0].set_zorder(5)
        pts = np.array(points[i])
        ax.scatter(i + pts[:, 0], pts[:, 1], s=34, facecolor=C_POINT[i], edgecolor="#222222", linewidth=0.8,
                   zorder=4)
    ax.set_xlim(-0.6, 2.6)
    ax.set_ylim(ylim)
    ax.set_xticks(range(3))
    ax.set_xticklabels(SUBTYPES, rotation=45, fontsize=12, color=GREY, ha="center")
    ax.set_yticks(yticks)
    ax.set_yticklabels(ytickfmt, fontsize=11, color=GREY)
    ax.tick_params(length=3.5, width=0.9, color="#222222", pad=3)
    ax.spines["top"].set_visible(False)
    ax.spines["right"].set_visible(False)
    ax.spines["left"].set_linewidth(1.0)
    ax.spines["bottom"].set_linewidth(1.0)
    ax.set_xlabel("Subtype", fontsize=16.4)
    ax.set_ylabel(ylabel, fontsize=16.3)
    ax.xaxis.set_label_coords(0.5, -0.058)
    ax.yaxis.set_label_coords(ylab_x, 0.5)
    ax.text(note_xy[0], note_xy[1], note, fontsize=13.1, va="center", zorder=6)


fig = plt.figure(figsize=(W / 100, H / 100), dpi=100, facecolor="white")
over = fig.add_axes([0, 0, 1, 1], zorder=10)
over.set_xlim(0, W)
over.set_ylim(H, 0)
over.axis("off")
over.patch.set_alpha(0)

# panel A
draw_heatmap([(135, 195), (202, 486), (492, 612)], (35.5, 51), (54.5, 70),
             [(75, 246), (255.5, 389), (398, 512)], [TCGA_A, TCGA_B, TCGA_C], TCGA_HIGH_FRAC, TCGA_LABELS, 617,
             "bilinear", 0.84)
over.text(360, 11, "TCGA", fontsize=21, ha="center", va="center", color="#222222")
draw_heat_legend((8, 24), 30, 7, 130, [(145, 161.5), (162.5, 179.5), (181, 198)], 222.5,
                 [(237.5, 254), (255.5, 272.5)], 297, 315, (6.5, 328, 26, 424.6))

# panel C
draw_heatmap([(130, 189), (196, 345), (351, 613)], (588, 605), (608, 624),
             [(629, 803), (812, 947), (956, 1072)], [GSE_A, GSE_B, GSE_C], GSE_HIGH_FRAC, GSE_LABELS, 618, "nearest",
             0.96)
over.text(349, 566, "GSE20711", fontsize=21, ha="center", va="center", color="#222222")
draw_heat_legend((1, 18), 22.5, 1, 696.5, [(709, 726), (727.5, 744), (746, 762.5)], 778.5,
                 [(792, 808.5), (810, 827.5)], 843.5, 867, (0, 878.5, 19.6, 971.5))

# panels B and D
draw_stack((1009, 84, 1292, 508), (1086, 1215), B_ISC, B_ISB, B_ISA, B_COUNTS, (-0.05, 1.098), (1147, 38), (1151, 64.5),
           (1150, 102), 549, (1318, 251), (1322, 1341), (280, 308, 335), 1354, 1.0)
draw_stack((1003, 633, 1297, 1076), (1083, 1216.5), D_ISC, D_ISB, D_ISA, D_COUNTS, (-0.052, 1.098), (1149, 585.5),
           (1150, 612.5), (1150, 651.5), 1117, (1324, 807), (1328, 1348), (839, 868, 895), 1362, 1.4)

# panels E and F
draw_violin_panel((113.4, 1188, 703, 1774), (-2.39, 3.07), [-2, -1, 0, 1, 2, 3], ["−2", "−1", "0", "1", "2", "3"],
                  E_BOX, E_VIO_Y, E_VIO_W, [E_A_PTS, E_B_PTS, E_C_PTS], "TIDE", -0.061, NOTE_E, (-0.55, -1.946))
draw_violin_panel((839.6, 1188, 1417, 1774), (-0.0514, 1.049), [0, 0.25, 0.5, 0.75, 1.0],
                  ["0.00", "0.25", "0.50", "0.75", "1.00"], F_BOX, F_VIO_Y, F_VIO_W, [F_A_PTS, F_B_PTS, F_C_PTS],
                  "mRNAsi", -0.0825, NOTE_F, (-0.521, 1.011))

# panel letters
for letter, x, y in [("A", 13, 23), ("B", 943, 22), ("C", 14, 569), ("D", 943, 580), ("E", 15, 1160), ("F", 729, 1160)]:
    over.text(x, y, letter, fontsize=20, weight="bold", va="center")

fig.savefig("out.png", dpi=100)
plt.close(fig)
